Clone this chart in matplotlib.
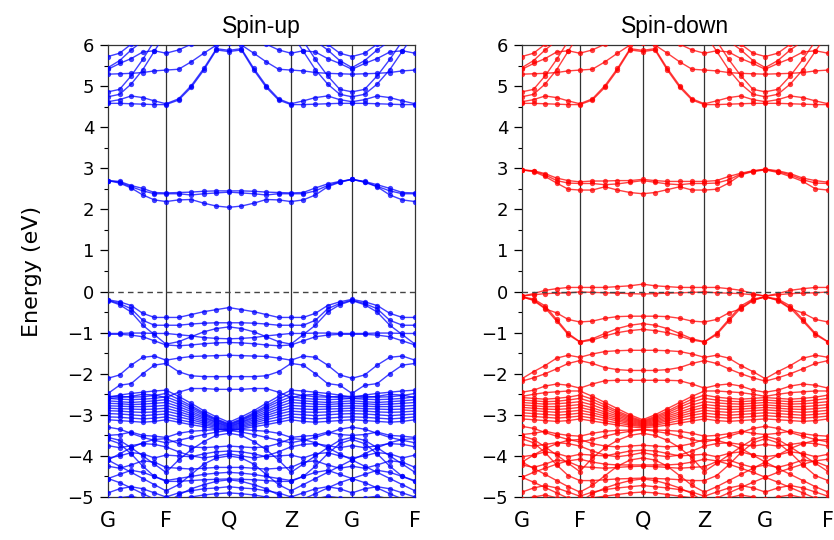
import numpy as np
import matplotlib
matplotlib.use("Agg")
import matplotlib.pyplot as plt
from matplotlib.ticker import MultipleLocator

# k-path: G-F-Q-Z-G-F, 5 intervals per segment (26 k-points)
k_labels = ["G", "F", "Q", "Z", "G", "F"]
seg_lengths = [0.58, 0.63, 0.62, 0.61, 0.63]

# conduction bands (same in both spin channels at this scale), eV
cond_bands = [
    [4.58,4.58,4.57,4.56,4.55,4.55, 4.66,4.97,5.39,5.88,5.84, 5.88,5.39,4.97,4.66,4.55, 4.55,4.56,4.57,4.58,4.58, 4.58,4.57,4.56,4.55,4.55],
    [4.62,4.67,4.76,4.72,4.64,4.57, 4.69,5.01,5.43,5.91,5.87, 5.91,5.43,5.01,4.69,4.57, 4.64,4.72,4.76,4.67,4.62, 4.67,4.76,4.72,4.64,4.57],
    [4.74,4.80,5.05,5.40,5.85,6.30, 6.50,6.60,6.60,6.60,6.60, 6.60,6.60,6.60,6.50,6.30, 5.85,5.40,5.05,4.80,4.74, 4.80,5.05,5.40,5.85,6.30],
    [4.86,4.92,5.25,5.65,6.10,6.50, 6.60,6.60,6.60,6.60,6.60, 6.60,6.60,6.60,6.60,6.50, 6.10,5.65,5.25,4.92,4.86, 4.92,5.25,5.65,6.10,6.50],
    [5.29,5.30,5.31,5.33,5.37,5.39, 5.41,5.59,5.80,6.00,6.05, 6.00,5.80,5.59,5.41,5.39, 5.37,5.33,5.31,5.30,5.29, 5.30,5.31,5.33,5.37,5.39],
    [5.41,5.55,5.67,5.83,5.86,5.80, 5.88,6.02,6.20,6.30,6.30, 6.30,6.20,6.02,5.88,5.80, 5.86,5.83,5.67,5.55,5.41, 5.55,5.67,5.83,5.86,5.80],
    [5.72,5.80,6.02,6.20,6.40,6.50, 6.60,6.60,6.60,6.60,6.60, 6.60,6.60,6.60,6.60,6.50, 6.40,6.20,6.02,5.80,5.72, 5.80,6.02,6.20,6.40,6.50],
    [5.45,5.62,5.88,6.10,6.30,6.40, 6.60,6.60,6.60,6.60,6.60, 6.60,6.60,6.60,6.60,6.40, 6.30,6.10,5.88,5.62,5.45, 5.62,5.88,6.10,6.30,6.40],
]

# spin-up: gap bands, valence bands
up_gap = [
    [2.70,2.68,2.58,2.51,2.41,2.40, 2.41,2.42,2.44,2.45,2.45, 2.45,2.44,2.42,2.41,2.40, 2.41,2.52,2.62,2.68,2.73, 2.68,2.60,2.51,2.41,2.40],
    [2.70,2.66,2.55,2.45,2.38,2.38, 2.38,2.35,2.38,2.40,2.42, 2.40,2.38,2.35,2.38,2.38, 2.38,2.45,2.58,2.67,2.73, 2.67,2.56,2.45,2.38,2.38],
    [2.70,2.64,2.52,2.35,2.23,2.19, 2.23,2.24,2.15,2.08,2.05, 2.08,2.15,2.24,2.23,2.19, 2.23,2.35,2.55,2.66,2.73, 2.66,2.55,2.35,2.23,2.19],
]
up_valence = [
    [-0.20,-0.25,-0.34,-0.53,-0.63,-0.63, -0.63,-0.56,-0.49,-0.44,-0.39, -0.44,-0.49,-0.56,-0.63,-0.63, -0.63,-0.53,-0.34,-0.25,-0.19, -0.25,-0.34,-0.53,-0.63,-0.63],
    [-0.21,-0.29,-0.42,-0.70,-0.82,-0.82, -0.82,-0.79,-0.77,-0.76,-0.76, -0.76,-0.77,-0.79,-0.82,-0.82, -0.82,-0.70,-0.42,-0.29,-0.21, -0.29,-0.42,-0.70,-0.82,-0.82],
    [-0.22,-0.32,-0.50,-0.82,-1.05,-1.28, -1.22,-1.10,-0.98,-0.90,-0.86, -0.90,-0.98,-1.10,-1.22,-1.28, -1.05,-0.82,-0.50,-0.32,-0.22, -0.32,-0.50,-0.82,-1.05,-1.28],
    [-1.02,-1.02,-1.01,-1.01,-1.02,-1.02, -1.05,-1.08,-1.12,-1.14,-1.15, -1.14,-1.12,-1.08,-1.05,-1.02, -1.02,-1.01,-1.01,-1.02,-1.02, -1.02,-1.01,-1.01,-1.02,-1.02],
    [-1.04,-1.04,-1.06,-1.10,-1.20,-1.30, -1.32,-1.30,-1.27,-1.25,-1.24, -1.25,-1.27,-1.30,-1.32,-1.30, -1.20,-1.10,-1.06,-1.04,-1.04, -1.04,-1.06,-1.10,-1.20,-1.30],
    [-2.11,-2.03,-1.79,-1.60,-1.57,-1.67, -1.62,-1.58,-1.57,-1.56,-1.55, -1.56,-1.57,-1.58,-1.62,-1.67, -1.57,-1.60,-1.79,-2.03,-2.11, -2.03,-1.79,-1.60,-1.57,-1.67],
    [-2.48,-2.28,-2.24,-2.00,-1.79,-1.75, -1.95,-2.05,-2.07,-2.07,-2.07, -2.07,-2.07,-2.05,-1.95,-1.75, -1.79,-2.00,-2.24,-2.28,-2.48, -2.28,-2.24,-2.00,-1.79,-1.75],
    [-2.60,-2.58,-2.55,-2.50,-2.52,-2.58, -2.45,-2.36,-2.36,-2.38,-2.38, -2.38,-2.36,-2.36,-2.45,-2.58, -2.52,-2.50,-2.55,-2.58,-2.60, -2.58,-2.55,-2.50,-2.52,-2.58],
    # dense manifold
    [-2.58,-2.52,-2.48,-2.45,-2.42,-2.40, -2.55,-2.72,-2.90,-3.05,-3.18, -3.05,-2.90,-2.72,-2.55,-2.40, -2.42,-2.45,-2.48,-2.52,-2.58, -2.52,-2.48,-2.45,-2.42,-2.40],
    [-2.55,-2.55,-2.57,-2.56,-2.53,-2.48, -2.62,-2.78,-2.95,-3.10,-3.22, -3.10,-2.95,-2.78,-2.62,-2.48, -2.53,-2.56,-2.57,-2.55,-2.55, -2.55,-2.57,-2.56,-2.53,-2.48],
    [-2.60,-2.62,-2.63,-2.62,-2.60,-2.56, -2.68,-2.82,-2.98,-3.12,-3.24, -3.12,-2.98,-2.82,-2.68,-2.56, -2.60,-2.62,-2.63,-2.62,-2.60, -2.62,-2.63,-2.62,-2.60,-2.56],
    [-2.66,-2.68,-2.70,-2.68,-2.66,-2.63, -2.74,-2.87,-3.01,-3.14,-3.26, -3.14,-3.01,-2.87,-2.74,-2.63, -2.66,-2.68,-2.70,-2.68,-2.66, -2.68,-2.70,-2.68,-2.66,-2.63],
    [-2.72,-2.73,-2.75,-2.74,-2.72,-2.70, -2.80,-2.92,-3.05,-3.17,-3.28, -3.17,-3.05,-2.92,-2.80,-2.70, -2.72,-2.74,-2.75,-2.73,-2.72, -2.73,-2.75,-2.74,-2.72,-2.70],
    [-2.78,-2.79,-2.80,-2.80,-2.79,-2.77, -2.86,-2.97,-3.08,-3.19,-3.30, -3.19,-3.08,-2.97,-2.86,-2.77, -2.79,-2.80,-2.80,-2.79,-2.78, -2.79,-2.80,-2.80,-2.79,-2.77],
    [-2.84,-2.85,-2.86,-2.87,-2.86,-2.84, -2.92,-3.02,-3.12,-3.22,-3.32, -3.22,-3.12,-3.02,-2.92,-2.84, -2.86,-2.87,-2.86,-2.85,-2.84, -2.85,-2.86,-2.87,-2.86,-2.84],
    [-2.90,-2.91,-2.93,-2.94,-2.93,-2.91, -2.98,-3.07,-3.16,-3.25,-3.34, -3.25,-3.16,-3.07,-2.98,-2.91, -2.93,-2.94,-2.93,-2.91,-2.90, -2.91,-2.93,-2.94,-2.93,-2.91],
    [-2.97,-2.98,-3.00,-3.02,-3.00,-2.98, -3.05,-3.12,-3.20,-3.28,-3.36, -3.28,-3.20,-3.12,-3.05,-2.98, -3.00,-3.02,-3.00,-2.98,-2.97, -2.98,-3.00,-3.02,-3.00,-2.98],
    [-3.05,-3.06,-3.08,-3.10,-3.08,-3.05, -3.12,-3.18,-3.24,-3.31,-3.38, -3.31,-3.24,-3.18,-3.12,-3.05, -3.08,-3.10,-3.08,-3.06,-3.05, -3.06,-3.08,-3.10,-3.08,-3.05],
    [-3.12,-3.14,-3.16,-3.18,-3.16,-3.12, -3.18,-3.24,-3.29,-3.34,-3.40, -3.34,-3.29,-3.24,-3.18,-3.12, -3.16,-3.18,-3.16,-3.14,-3.12, -3.14,-3.16,-3.18,-3.16,-3.12],
    # deeper bands
    [-3.50,-3.48,-3.42,-3.50,-3.52,-3.55, -3.45,-3.40,-3.38,-3.36,-3.35, -3.36,-3.38,-3.40,-3.45,-3.55, -3.52,-3.50,-3.42,-3.48,-3.50, -3.48,-3.42,-3.50,-3.52,-3.55],
    [-3.30,-3.35,-3.45,-3.55,-3.62,-3.68, -3.62,-3.55,-3.48,-3.42,-3.38, -3.42,-3.48,-3.55,-3.62,-3.68, -3.62,-3.55,-3.45,-3.35,-3.30, -3.35,-3.45,-3.55,-3.62,-3.68],
    [-3.55,-3.62,-3.80,-4.00,-4.20,-4.40, -4.10,-3.85,-3.65,-3.50,-3.45, -3.50,-3.65,-3.85,-4.10,-4.40, -4.20,-4.00,-3.80,-3.62,-3.55, -3.62,-3.80,-4.00,-4.20,-4.40],
    [-3.75,-3.80,-3.75,-3.70,-3.72,-3.78, -3.90,-4.00,-4.05,-4.00,-3.95, -4.00,-4.05,-4.00,-3.90,-3.78, -3.72,-3.70,-3.75,-3.80,-3.75, -3.80,-3.75,-3.70,-3.72,-3.78],
    [-4.10,-3.95,-3.80,-3.68,-3.60,-3.58, -3.70,-3.78,-3.80,-3.78,-3.76, -3.78,-3.80,-3.78,-3.70,-3.58, -3.60,-3.68,-3.80,-3.95,-4.10, -3.95,-3.80,-3.68,-3.60,-3.58],
    [-4.10,-4.25,-4.40,-4.55,-4.70,-4.85, -4.70,-4.45,-4.20,-4.05,-4.00, -4.05,-4.20,-4.45,-4.70,-4.85, -4.70,-4.55,-4.40,-4.25,-4.10, -4.25,-4.40,-4.55,-4.70,-4.85],
    [-4.05,-4.00,-3.92,-3.95,-4.05,-3.98, -4.00,-4.02,-3.95,-3.90,-3.88, -3.90,-3.95,-4.02,-4.00,-3.98, -4.05,-3.95,-3.92,-4.00,-4.05, -4.00,-3.92,-3.95,-4.05,-3.98],
    [-4.25,-4.30,-4.22,-4.12,-4.15,-4.28, -4.30,-4.32,-4.30,-4.28,-4.28, -4.28,-4.30,-4.32,-4.30,-4.28, -4.15,-4.12,-4.22,-4.30,-4.25, -4.30,-4.22,-4.12,-4.15,-4.28],
    [-4.55,-4.45,-4.35,-4.40,-4.50,-4.60, -4.55,-4.50,-4.45,-4.42,-4.40, -4.42,-4.45,-4.50,-4.55,-4.60, -4.50,-4.40,-4.35,-4.45,-4.55, -4.45,-4.35,-4.40,-4.50,-4.60],
    [-4.55,-4.65,-4.78,-4.92,-5.05,-5.15, -4.95,-4.80,-4.70,-4.62,-4.58, -4.62,-4.70,-4.80,-4.95,-5.15, -5.05,-4.92,-4.78,-4.65,-4.55, -4.65,-4.78,-4.92,-5.05,-5.15],
    [-4.90,-4.80,-4.75,-4.80,-4.90,-5.00, -4.90,-4.85,-4.80,-4.78,-4.75, -4.78,-4.80,-4.85,-4.90,-5.00, -4.90,-4.80,-4.75,-4.80,-4.90, -4.80,-4.75,-4.80,-4.90,-5.00],
    [-5.05,-5.02,-4.98,-5.05,-5.15,-5.25, -5.05,-5.00,-4.95,-4.92,-4.90, -4.92,-4.95,-5.00,-5.05,-5.25, -5.15,-5.05,-4.98,-5.02,-5.05, -5.02,-4.98,-5.05,-5.15,-5.25],
    [-3.60,-3.70,-3.95,-4.25,-4.50,-4.62, -4.62,-4.60,-4.58,-4.57,-4.56, -4.57,-4.58,-4.60,-4.62,-4.62, -4.50,-4.25,-3.95,-3.70,-3.60, -3.70,-3.95,-4.25,-4.50,-4.62],
]

# spin-down: gap bands, valence bands
dn_gap = [
    [2.96,2.94,2.87,2.76,2.70,2.67, 2.69,2.69,2.70,2.70,2.73, 2.70,2.68,2.68,2.68,2.68, 2.70,2.80,2.88,2.94,2.98, 2.94,2.87,2.76,2.70,2.66],
    [2.96,2.92,2.80,2.64,2.49,2.47, 2.47,2.55,2.47,2.41,2.38, 2.41,2.48,2.55,2.47,2.47, 2.49,2.64,2.84,2.92,2.96, 2.90,2.80,2.68,2.50,2.47],
    [2.96,2.93,2.84,2.70,2.64,2.63, 2.63,2.60,2.62,2.66,2.70, 2.66,2.62,2.60,2.63,2.63, 2.64,2.72,2.86,2.93,2.97, 2.92,2.84,2.72,2.64,2.63],
]
dn_valence = [
    [-0.11,-0.05,0.03,0.07,0.10,0.10, 0.10,0.10,0.12,0.14,0.18, 0.14,0.12,0.10,0.10,0.10, 0.10,0.07,0.03,-0.05,-0.11, -0.05,0.03,0.07,0.10,0.10],
    [-0.11,-0.08,-0.05,-0.04,-0.03,-0.01, -0.02,-0.03,-0.04,-0.05,-0.06, -0.05,-0.04,-0.03,-0.02,-0.01, -0.03,-0.04,-0.05,-0.08,-0.11, -0.08,-0.05,-0.04,-0.03,-0.01],
    [-0.12,-0.22,-0.42,-0.52,-0.68,-0.74, -0.72,-0.65,-0.61,-0.60,-0.60, -0.60,-0.61,-0.65,-0.72,-0.74, -0.68,-0.52,-0.42,-0.22,-0.12, -0.22,-0.42,-0.52,-0.68,-0.74],
    [-0.13,-0.18,-0.35,-0.68,-1.02,-1.22, -1.15,-1.02,-0.90,-0.82,-0.78, -0.82,-0.90,-1.02,-1.15,-1.22, -1.02,-0.68,-0.35,-0.18,-0.13, -0.18,-0.35,-0.68,-1.02,-1.22],
    [-0.14,-0.20,-0.40,-0.72,-1.05,-1.23, -1.18,-1.08,-1.00,-0.95,-0.92, -0.95,-1.00,-1.08,-1.18,-1.23, -1.05,-0.72,-0.40,-0.20,-0.14, -0.20,-0.40,-0.72,-1.05,-1.23],
    [-2.12,-1.95,-1.80,-1.62,-1.55,-1.60, -1.52,-1.46,-1.44,-1.43,-1.43, -1.43,-1.44,-1.46,-1.52,-1.60, -1.55,-1.62,-1.80,-1.95,-2.12, -1.95,-1.80,-1.62,-1.55,-1.60],
    [-2.18,-2.10,-2.00,-1.88,-1.75,-1.68, -1.75,-1.85,-1.90,-1.92,-1.92, -1.92,-1.90,-1.85,-1.75,-1.68, -1.75,-1.88,-2.00,-2.10,-2.18, -2.10,-2.00,-1.88,-1.75,-1.68],
    [-2.45,-2.40,-2.30,-2.25,-2.28,-2.35, -2.25,-2.17,-2.16,-2.16,-2.16, -2.16,-2.16,-2.17,-2.25,-2.35, -2.28,-2.25,-2.30,-2.40,-2.45, -2.40,-2.30,-2.25,-2.28,-2.35],
    # dense manifold
    [-2.55,-2.50,-2.46,-2.44,-2.42,-2.42, -2.55,-2.70,-2.85,-3.00,-3.12, -3.00,-2.85,-2.70,-2.55,-2.42, -2.42,-2.44,-2.46,-2.50,-2.55, -2.50,-2.46,-2.44,-2.42,-2.42],
    [-2.58,-2.60,-2.62,-2.60,-2.57,-2.52, -2.62,-2.76,-2.91,-3.04,-3.15, -3.04,-2.91,-2.76,-2.62,-2.52, -2.57,-2.60,-2.62,-2.60,-2.58, -2.60,-2.62,-2.60,-2.57,-2.52],
    [-2.64,-2.66,-2.68,-2.67,-2.64,-2.60, -2.69,-2.81,-2.95,-3.07,-3.17, -3.07,-2.95,-2.81,-2.69,-2.60, -2.64,-2.67,-2.68,-2.66,-2.64, -2.66,-2.68,-2.67,-2.64,-2.60],
    [-2.70,-2.72,-2.74,-2.73,-2.71,-2.68, -2.76,-2.87,-2.99,-3.10,-3.19, -3.10,-2.99,-2.87,-2.76,-2.68, -2.71,-2.73,-2.74,-2.72,-2.70, -2.72,-2.74,-2.73,-2.71,-2.68],
    [-2.76,-2.78,-2.80,-2.80,-2.78,-2.75, -2.83,-2.93,-3.03,-3.13,-3.21, -3.13,-3.03,-2.93,-2.83,-2.75, -2.78,-2.80,-2.80,-2.78,-2.76, -2.78,-2.80,-2.80,-2.78,-2.75],
    [-2.82,-2.84,-2.86,-2.87,-2.85,-2.82, -2.89,-2.98,-3.07,-3.16,-3.23, -3.16,-3.07,-2.98,-2.89,-2.82, -2.85,-2.87,-2.86,-2.84,-2.82, -2.84,-2.86,-2.87,-2.85,-2.82],
    [-2.88,-2.90,-2.92,-2.94,-2.92,-2.89, -2.95,-3.03,-3.11,-3.19,-3.25, -3.19,-3.11,-3.03,-2.95,-2.89, -2.92,-2.94,-2.92,-2.90,-2.88, -2.90,-2.92,-2.94,-2.92,-2.89],
    [-2.95,-2.97,-2.99,-3.01,-2.99,-2.96, -3.01,-3.08,-3.15,-3.22,-3.27, -3.22,-3.15,-3.08,-3.01,-2.96, -2.99,-3.01,-2.99,-2.97,-2.95, -2.97,-2.99,-3.01,-2.99,-2.96],
    [-3.02,-3.04,-3.06,-3.08,-3.06,-3.03, -3.08,-3.14,-3.20,-3.25,-3.29, -3.25,-3.20,-3.14,-3.08,-3.03, -3.06,-3.08,-3.06,-3.04,-3.02, -3.04,-3.06,-3.08,-3.06,-3.03],
    [-3.10,-3.12,-3.14,-3.16,-3.14,-3.10, -3.15,-3.20,-3.25,-3.29,-3.32, -3.29,-3.25,-3.20,-3.15,-3.10, -3.14,-3.16,-3.14,-3.12,-3.10, -3.12,-3.14,-3.16,-3.14,-3.10],
    # deeper bands
    [-3.48,-3.45,-3.40,-3.46,-3.50,-3.52, -3.45,-3.40,-3.38,-3.37,-3.36, -3.37,-3.38,-3.40,-3.45,-3.52, -3.50,-3.46,-3.40,-3.45,-3.48, -3.45,-3.40,-3.46,-3.50,-3.52],
    [-3.28,-3.33,-3.43,-3.52,-3.60,-3.66, -3.60,-3.52,-3.45,-3.40,-3.36, -3.40,-3.45,-3.52,-3.60,-3.66, -3.60,-3.52,-3.43,-3.33,-3.28, -3.33,-3.43,-3.52,-3.60,-3.66],
    [-3.52,-3.60,-3.78,-3.98,-4.18,-4.38, -4.05,-3.80,-3.62,-3.50,-3.45, -3.50,-3.62,-3.80,-4.05,-4.38, -4.18,-3.98,-3.78,-3.60,-3.52, -3.60,-3.78,-3.98,-4.18,-4.38],
    [-3.72,-3.76,-3.72,-3.68,-3.70,-3.76, -3.88,-3.98,-4.02,-3.98,-3.92, -3.98,-4.02,-3.98,-3.88,-3.76, -3.70,-3.68,-3.72,-3.76,-3.72, -3.76,-3.72,-3.68,-3.70,-3.76],
    [-4.15,-3.98,-3.82,-3.70,-3.62,-3.60, -3.70,-3.76,-3.78,-3.76,-3.74, -3.76,-3.78,-3.76,-3.70,-3.60, -3.62,-3.70,-3.82,-3.98,-4.15, -3.98,-3.82,-3.70,-3.62,-3.60],
    [-4.15,-4.30,-4.45,-4.60,-4.75,-4.88, -4.72,-4.48,-4.25,-4.10,-4.05, -4.10,-4.25,-4.48,-4.72,-4.88, -4.75,-4.60,-4.45,-4.30,-4.15, -4.30,-4.45,-4.60,-4.75,-4.88],
    [-4.02,-3.98,-3.90,-3.94,-4.02,-3.96, -3.98,-4.00,-3.94,-3.88,-3.86, -3.88,-3.94,-4.00,-3.98,-3.96, -4.02,-3.94,-3.90,-3.98,-4.02, -3.98,-3.90,-3.94,-4.02,-3.96],
    [-4.22,-4.28,-4.20,-4.10,-4.14,-4.26, -4.28,-4.30,-4.28,-4.26,-4.25, -4.26,-4.28,-4.30,-4.28,-4.26, -4.14,-4.10,-4.20,-4.28,-4.22, -4.28,-4.20,-4.10,-4.14,-4.26],
    [-4.52,-4.40,-4.30,-4.20,-4.12,-4.08, -4.15,-4.20,-4.22,-4.22,-4.22, -4.22,-4.22,-4.20,-4.15,-4.08, -4.12,-4.20,-4.30,-4.40,-4.52, -4.40,-4.30,-4.20,-4.12,-4.08],
    [-4.52,-4.64,-4.77,-4.90,-5.03,-5.12, -4.92,-4.78,-4.68,-4.60,-4.56, -4.60,-4.68,-4.78,-4.92,-5.12, -5.03,-4.90,-4.77,-4.64,-4.52, -4.64,-4.77,-4.90,-5.03,-5.12],
    [-4.88,-4.78,-4.72,-4.78,-4.88,-4.98, -4.88,-4.82,-4.78,-4.75,-4.72, -4.75,-4.78,-4.82,-4.88,-4.98, -4.88,-4.78,-4.72,-4.78,-4.88, -4.78,-4.72,-4.78,-4.88,-4.98],
    [-5.05,-5.00,-4.95,-5.02,-5.12,-5.22, -5.02,-4.98,-4.94,-4.90,-4.88, -4.90,-4.94,-4.98,-5.02,-5.22, -5.12,-5.02,-4.95,-5.00,-5.05, -5.00,-4.95,-5.02,-5.12,-5.22],
    [-3.58,-3.68,-3.92,-4.22,-4.48,-4.60, -4.60,-4.58,-4.56,-4.55,-4.54, -4.55,-4.56,-4.58,-4.60,-4.60, -4.48,-4.22,-3.92,-3.68,-3.58, -3.68,-3.92,-4.22,-4.48,-4.60],
]

# k distances along the path
k_ticks = np.concatenate([[0], np.cumsum(seg_lengths)])
kpts = [k_ticks[0]]
for i in range(len(seg_lengths)):
    kpts.extend(np.linspace(k_ticks[i], k_ticks[i + 1], 6)[1:])
kpts = np.array(kpts)

fig = plt.figure(figsize=(8.34, 5.4), dpi=100)
ax_up = fig.add_axes([108 / 834, 43 / 540, 307 / 834, 452 / 540])
ax_dn = fig.add_axes([522 / 834, 43 / 540, 306 / 834, 452 / 540])

panels = [
    (ax_up, "Spin-up", "#0000ff", cond_bands + up_gap + up_valence),
    (ax_dn, "Spin-down", "#ff0000", cond_bands + dn_gap + dn_valence),
]

for ax, title, color, bands in panels:
    for band in bands:
        ax.plot(kpts, band, color=color, lw=1.0, alpha=0.75,
                marker="o", ms=3.8, mew=0, zorder=3)
    for kx in k_ticks[1:-1]:
        ax.axvline(kx, color="#333333", lw=0.9, zorder=2)
    ax.axhline(0, color="#444444", lw=1.0, ls=(0, (4, 3)), zorder=4)
    ax.set_xlim(k_ticks[0], k_ticks[-1])
    ax.set_ylim(-5, 6)
    ax.set_xticks(k_ticks)
    ax.set_xticklabels(k_labels, fontsize=15)
    ax.tick_params(axis="x", length=0, pad=10)
    ax.yaxis.set_major_locator(MultipleLocator(1))
    ax.yaxis.set_minor_locator(MultipleLocator(0.5))
    ax.tick_params(axis="y", which="major", direction="out", length=6,
                   width=0.9, labelsize=13, pad=4)
    ax.tick_params(axis="y", which="minor", direction="out", length=3, width=0.8)
    for sp in ax.spines.values():
        sp.set_color("#333333")
        sp.set_linewidth(0.9)
    ax.set_title(title, fontsize=16.5, family="Liberation Sans", pad=9)

ax_up.set_ylabel("Energy (eV)", fontsize=16, labelpad=18)

fig.savefig("out.png", dpi=100)
